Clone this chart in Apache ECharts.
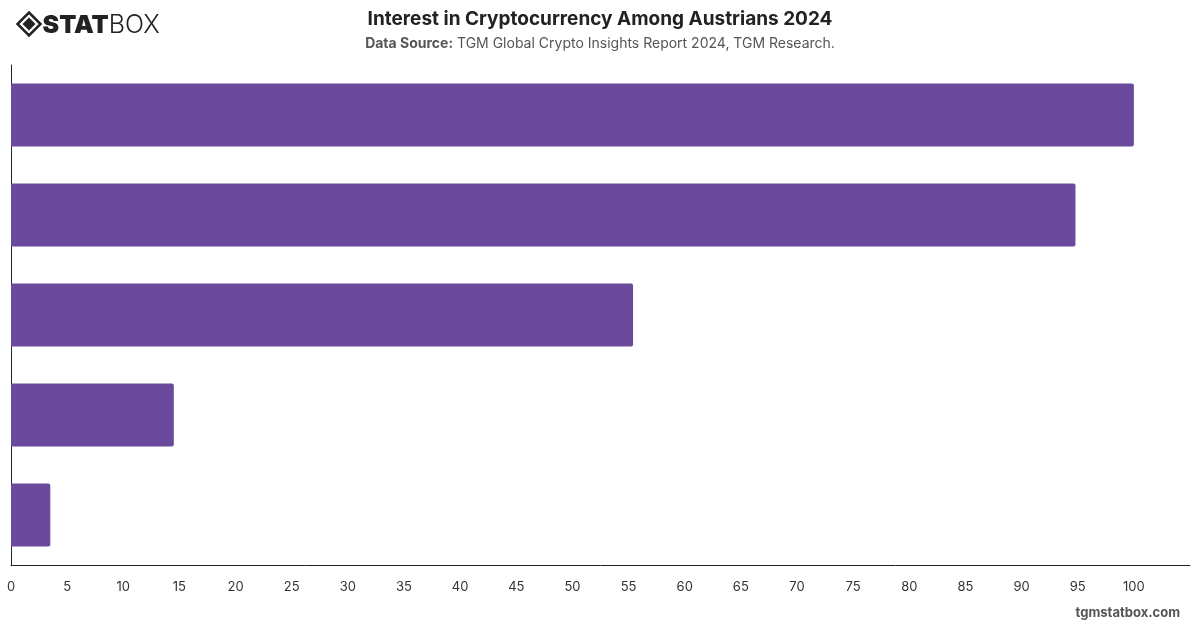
<!DOCTYPE html>
<html><head><meta charset="utf-8">
<script src="https://cdn.jsdelivr.net/npm/echarts@6/dist/echarts.min.js"></script>
<style>html,body{margin:0;padding:0;background:#fff}#c{width:1200px;height:628px}</style>
</head><body><div id="c"></div>
<script>
const categories = ["A", "B", "C", "D", "E"];
const values = [100, 94.8, 55.4, 14.5, 3.5];
const xTicks = { min: 0, max: 105, interval: 5 };
const titleText = "Interest in Cryptocurrency Among Austrians 2024";
const sourceLabel = "Data Source:";
const sourceText = " TGM Global Crypto Insights Report 2024, TGM Research.";

const chart = echarts.init(document.getElementById('c'), null, {renderer: 'canvas'});
const font = '"Helvetica Neue", Inter, "Liberation Sans", Arial, sans-serif';
chart.setOption({
  animation: false,
  backgroundColor: '#fff',
  title: {
    text: titleText,
    left: 'center', top: 5,
    textStyle: { fontFamily: font, fontSize: 19, fontWeight: 'bold', color: '#222' },
    subtext: '{b|' + sourceLabel + '}{n|' + sourceText + '}',
    itemGap: 8,
    subtextStyle: { rich: {
      b: { fontFamily: font, fontSize: 14, fontWeight: 'bold', color: '#555' },
      n: { fontFamily: font, fontSize: 14, color: '#555' }
    } }
  },
  grid: { left: 11, right: 10, top: 65, bottom: 63, containLabel: false },
  xAxis: {
    type: 'value', min: xTicks.min, max: xTicks.max, interval: xTicks.interval,
    axisLine: { show: true, lineStyle: { color: '#222', width: 1 } },
    axisTick: { show: false },
    splitLine: { show: false },
    axisLabel: {
      fontFamily: font, fontSize: 13, color: '#333', margin: 16,
      formatter: v => v > 100 ? '' : String(v)
    }
  },
  yAxis: {
    type: 'category', data: categories, inverse: true,
    axisLine: { show: true, lineStyle: { color: '#222', width: 1 } },
    axisTick: { show: false },
    axisLabel: { show: false }
  },
  series: [{
    type: 'bar', data: values, barWidth: '63%',
    itemStyle: { color: '#6A4A9C', borderRadius: [0, 2, 2, 0] }
  }],
  graphic: [
    { type: 'group', left: 15, top: 10, children: [
      { type: 'polygon', shape: { points: [[11.5,0],[23,11.5],[11.5,23],[0,11.5]] }, style: { fill: 'none', stroke: '#222', lineWidth: 2.5 } },
      { type: 'polygon', shape: { points: [[11.5,5],[18,11.5],[11.5,18],[5,11.5]] }, style: { fill: '#222' } },
      { type: 'text', x: 25, y: 0, style: {
        text: '{a|STAT}{b|BOX}',
        rich: {
          a: { fontFamily: font, fontSize: 25, fontWeight: 900, fill: '#222', lineHeight: 25 },
          b: { fontFamily: font, fontSize: 25, fontWeight: 300, fill: '#222', lineHeight: 25 }
        }
      } }
    ]},
    { type: 'text', right: 20, top: 607, style: { text: 'tgmstatbox.com', font: 'bold 13px ' + font, fill: '#555' } }
  ]
});
</script></body></html>
